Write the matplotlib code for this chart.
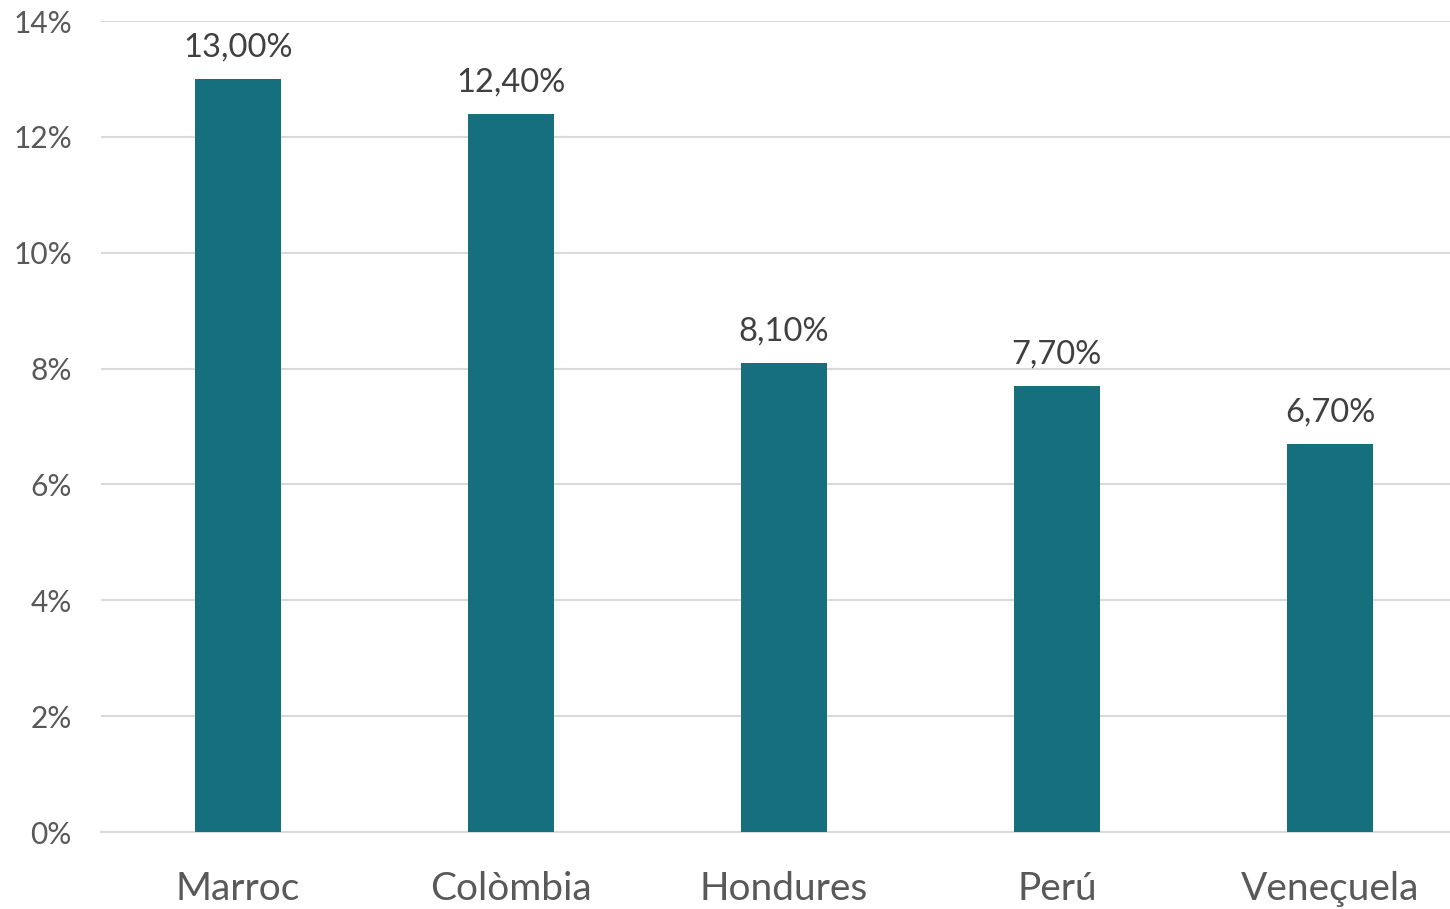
import matplotlib
matplotlib.use("Agg")
import matplotlib.pyplot as plt
from matplotlib.ticker import FuncFormatter

categories = ["Marroc", "Colòmbia", "Hondures", "Perú", "Veneçuela"]
values = [13.00, 12.40, 8.10, 7.70, 6.70]
yticks = [0, 2, 4, 6, 8, 10, 12, 14]

plt.rcParams['font.family'] = ['Lato', 'DejaVu Sans']

fig = plt.figure(figsize=(14.5, 9.09), dpi=100)
ax = fig.add_axes([101/1450, 77/909, 1 - 101/1450, (888-77)/909])

x = list(range(len(categories)))
bars = ax.bar(x, values, width=0.315, color="#156f7c", zorder=3)

ax.set_xlim(-0.5, (1450-238)/273)
ax.set_ylim(0, 14)
ax.set_yticks(yticks)
ax.yaxis.set_major_formatter(FuncFormatter(lambda v, p: f"{int(v)}%"))
ax.grid(axis='y', color="#d9d9d9", linewidth=1.5, zorder=0)
ax.set_xticks(x)
ax.set_xticklabels(categories)
for s in ["top", "right", "left"]:
    ax.spines[s].set_visible(False)
ax.spines["bottom"].set_color("#d9d9d9")
ax.spines["bottom"].set_linewidth(1.5)
ax.tick_params(axis='y', length=0, pad=21, labelsize=21.5, labelcolor="#595959")
ax.tick_params(axis='x', length=0, pad=28, labelsize=28, labelcolor="#595959")

for xi, v in zip(x, values):
    ax.annotate(f"{v:.2f}%".replace(".", ","), (xi, v), xytext=(0, 16),
                textcoords="offset points", ha="center", va="baseline",
                fontsize=23.5, color="#404040")

fig.savefig("out.png", dpi=100)
